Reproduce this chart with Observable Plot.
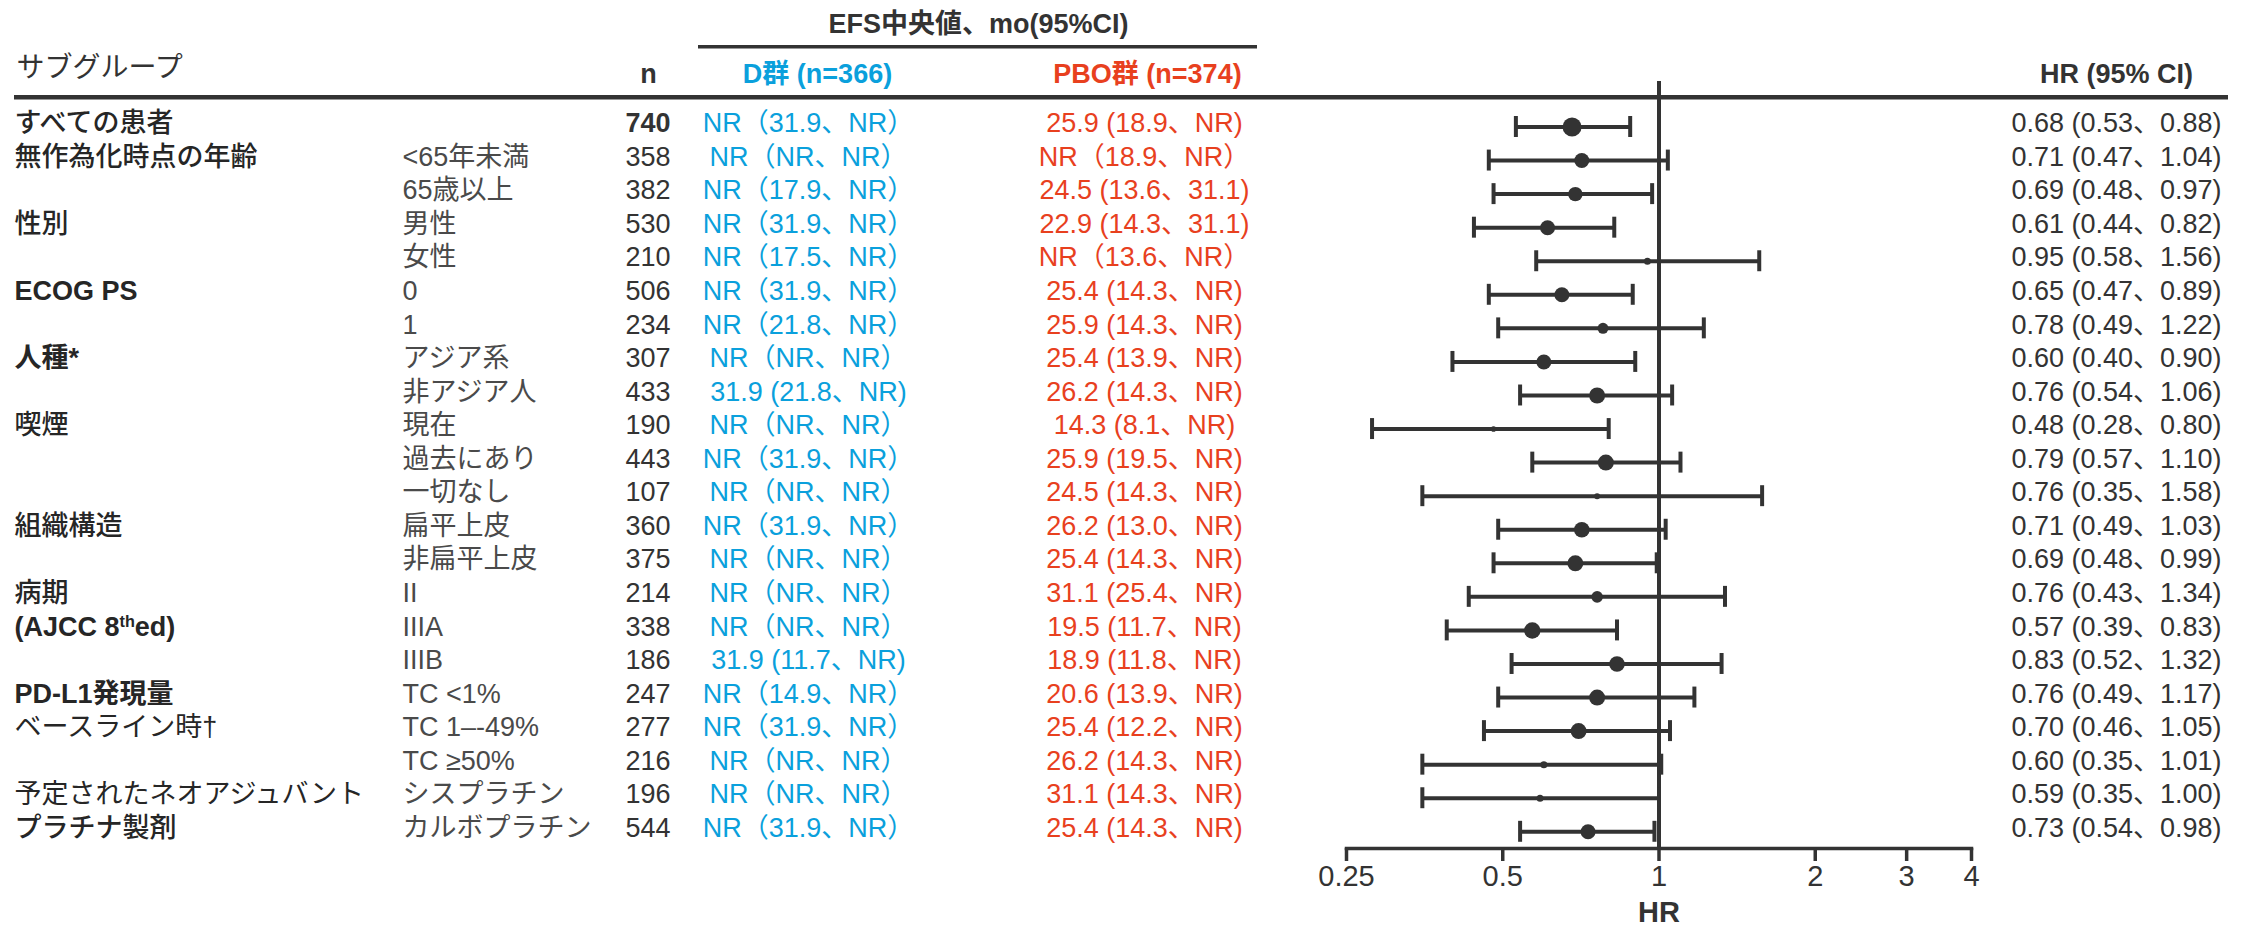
<!DOCTYPE html>
<html>
<head>
<meta charset="utf-8">
<script src="https://cdn.jsdelivr.net/npm/d3@7"></script>
<script src="https://cdn.jsdelivr.net/npm/@observablehq/plot@0.6"></script>
<style>
  html, body { margin: 0; padding: 0; background: #ffffff; }
  #chart { width: 2249px; height: 927px; }
</style>
</head>
<body>
<div id="chart"></div>
<script>
// ---------------- data ----------------
const groups = ["すべての患者", "無作為化時点の年齢", "", "性別", "", "ECOG PS", "", "人種*", "", "喫煙", "", "",
  "組織構造", "", "病期", "(AJCC 8thed)", "", "PD-L1発現量", "ベースライン時†", "", "予定されたネオアジュバント", "プラチナ製剤"];
const subgroups = ["", "<65年未満", "65歳以上", "男性", "女性", "0", "1", "アジア系", "非アジア人", "現在", "過去にあり", "一切なし",
  "扁平上皮", "非扁平上皮", "II", "IIIA", "IIIB", "TC <1%", "TC 1–-49%", "TC ≥50%", "シスプラチン", "カルボプラチン"];
const nValues = [740, 358, 382, 530, 210, 506, 234, 307, 433, 190, 443, 107, 360, 375, 214, 338, 186, 247, 277, 216, 196, 544];
const efsD = ["NR（31.9、NR）", "NR（NR、NR）", "NR（17.9、NR）", "NR（31.9、NR）", "NR（17.5、NR）", "NR（31.9、NR）",
  "NR（21.8、NR）", "NR（NR、NR）", "31.9 (21.8、NR)", "NR（NR、NR）", "NR（31.9、NR）", "NR（NR、NR）",
  "NR（31.9、NR）", "NR（NR、NR）", "NR（NR、NR）", "NR（NR、NR）", "31.9 (11.7、NR)", "NR（14.9、NR）",
  "NR（31.9、NR）", "NR（NR、NR）", "NR（NR、NR）", "NR（31.9、NR）"];
const efsPBO = ["25.9 (18.9、NR)", "NR（18.9、NR）", "24.5 (13.6、31.1)", "22.9 (14.3、31.1)", "NR（13.6、NR）", "25.4 (14.3、NR)",
  "25.9 (14.3、NR)", "25.4 (13.9、NR)", "26.2 (14.3、NR)", "14.3 (8.1、NR)", "25.9 (19.5、NR)", "24.5 (14.3、NR)",
  "26.2 (13.0、NR)", "25.4 (14.3、NR)", "31.1 (25.4、NR)", "19.5 (11.7、NR)", "18.9 (11.8、NR)", "20.6 (13.9、NR)",
  "25.4 (12.2、NR)", "26.2 (14.3、NR)", "31.1 (14.3、NR)", "25.4 (14.3、NR)"];
const hrValues = [0.68, 0.71, 0.69, 0.61, 0.95, 0.65, 0.78, 0.60, 0.76, 0.48, 0.79, 0.76, 0.71, 0.69, 0.76, 0.57, 0.83, 0.76, 0.70, 0.60, 0.59, 0.73];
const hrLow = [0.53, 0.47, 0.48, 0.44, 0.58, 0.47, 0.49, 0.40, 0.54, 0.28, 0.57, 0.35, 0.49, 0.48, 0.43, 0.39, 0.52, 0.49, 0.46, 0.35, 0.35, 0.54];
const hrHigh = [0.88, 1.04, 0.97, 0.82, 1.56, 0.89, 1.22, 0.90, 1.06, 0.80, 1.10, 1.58, 1.03, 0.99, 1.34, 0.83, 1.32, 1.17, 1.05, 1.01, 1.00, 0.98];
// marker size (box weight)
const markerWeight = [9.5, 7.5, 7.2, 7.5, 3.5, 7.5, 5.5, 7.5, 8, 2.8, 8, 3, 7.8, 8, 5.8, 8.2, 7.8, 8, 8, 3.5, 3.5, 7.5];
const axisTicks = [0.25, 0.5, 1, 2, 3, 4];
const axisTickLabels = ["0.25", "0.5", "1", "2", "3", "4"];
const titleText = "EFS中央値、mo(95%CI)";
const headerSub = "サブグループ";
const headerN = "n";
const headerD = "D群 (n=366)";
const headerPBO = "PBO群 (n=374)";
const headerHR = "HR (95% CI)";
const axisLabel = "HR";

// ---------------- layout & style ----------------
const W = 2249, H = 927;
const M = {left: 1346, right: 278, top: 81, bottom: 79};
const rowFirst = 126.5, rowLast = 831.3;
const rowStep = (rowLast - rowFirst) / (groups.length - 1);
const col = {group: 14, sub: 402, n: 670, d: 808, pbo: 1144, hr: 2116, title: 978, headD: 817, headPBO: 1147, headN: 648, headSub: 16};
const rulesPx = [
  {x1: 698, x2: 1257, y: 46.7, w: 3.5},
  {x1: 14, x2: 2228, y: 97.3, w: 4.5}
];
const INK = "#333333", GROUP_INK = "#262626", SUB_INK = "#4a4a4a";
const BLUE = "#0aa0dc", RED = "#e8401e";
const FONT = "'Liberation Sans', Arial, 'Noto Sans CJK JP', sans-serif";
const FS = 27;
const boldGroups = new Set(["ECOG PS", "人種*", "(AJCC 8thed)", "PD-L1発現量"]);
const plainGroups = new Set(["ベースライン時†", "予定されたネオアジュバント"]);

const rows = groups.map((g, i) => ({
  i, group: g, sub: subgroups[i], n: nValues[i], d: efsD[i], pbo: efsPBO[i],
  hr: hrValues[i], lo: hrLow[i], hi: hrHigh[i], w: markerWeight[i],
  hrText: `${hrValues[i].toFixed(2)} (${hrLow[i].toFixed(2)}、${hrHigh[i].toFixed(2)})`
}));

const rowText = (field, opts) => Plot.text(rows, {
  y: "i", text: field, frameAnchor: "left", lineAnchor: "middle", dy: -3.5, fontSize: FS, ...opts
});
const headText = (txt, x, y, opts) => Plot.text([txt], {
  text: d => d, frameAnchor: "top-left", lineAnchor: "middle", dx: x - M.left, dy: y - M.top,
  fontSize: FS, fontWeight: "bold", fill: INK, ...opts
});

const headerRules = (index, scales, values, dims) => {
  const g = d3.create("svg:g").attr("stroke", INK);
  for (const r of rulesPx) {
    g.append("line").attr("x1", r.x1).attr("x2", r.x2).attr("y1", r.y).attr("y2", r.y).attr("stroke-width", r.w);
  }
  return g.node();
};

const chart = Plot.plot({
  width: W, height: H,
  marginLeft: M.left, marginRight: M.right, marginTop: M.top, marginBottom: M.bottom,
  style: {fontFamily: FONT, fontSize: FS + "px", color: INK, background: "#ffffff", overflow: "visible"},
  x: {type: "log", domain: [0.25, 4]},
  y: {type: "band", domain: rows.map(d => d.i), range: [rowFirst - rowStep / 2, rowLast + rowStep / 2], padding: 0, round: false, axis: null},
  r: {type: "identity"},
  marks: [
    headerRules,
    Plot.ruleX([1], {stroke: INK, strokeWidth: 4}),
    Plot.frame({anchor: "bottom", stroke: INK, strokeWidth: 3.5}),
    Plot.axisX({ticks: axisTicks, tickFormat: d => axisTickLabels[axisTicks.indexOf(d)], tickSize: 13, tickPadding: 4,
      fontSize: 29, color: INK, strokeWidth: 3.5, label: null}),
    Plot.text([axisLabel], {text: d => d, frameAnchor: "bottom", lineAnchor: "middle", dy: 64, fontSize: 29, fontWeight: "bold", fill: INK}),
    // forest
    Plot.ruleY(rows, {y: "i", x1: "lo", x2: "hi", stroke: INK, strokeWidth: 4}),
    Plot.tickX(rows, {x: "lo", y: "i", stroke: INK, strokeWidth: 4, insetTop: 6.3, insetBottom: 6.3}),
    Plot.tickX(rows, {x: "hi", y: "i", stroke: INK, strokeWidth: 4, insetTop: 6.3, insetBottom: 6.3}),
    Plot.dot(rows, {x: "hr", y: "i", r: "w", fill: INK, stroke: null}),
    // table columns
    rowText("group", {dx: col.group - M.left, textAnchor: "start", fill: GROUP_INK, fontWeight: 500,
      filter: d => d.group && !boldGroups.has(d.group) && !plainGroups.has(d.group)}),
    rowText("group", {dx: col.group - M.left, textAnchor: "start", fill: GROUP_INK, fontWeight: "normal", filter: d => plainGroups.has(d.group)}),
    rowText("group", {dx: col.group - M.left, textAnchor: "start", fill: GROUP_INK, fontWeight: "bold", filter: d => boldGroups.has(d.group)}),
    rowText("sub", {dx: col.sub - M.left, textAnchor: "start", fill: SUB_INK}),
    rowText("n", {dx: col.n - M.left, textAnchor: "end", fill: INK, filter: d => d.i !== 0}),
    rowText("n", {dx: col.n - M.left, textAnchor: "end", fill: INK, fontWeight: "bold", filter: d => d.i === 0}),
    rowText("d", {dx: col.d - M.left, textAnchor: "middle", fill: BLUE}),
    rowText("pbo", {dx: col.pbo - M.left, textAnchor: "middle", fill: RED}),
    rowText("hrText", {dx: col.hr - M.left, textAnchor: "middle", fill: INK}),
    // headers
    headText(titleText, col.title, 24, {textAnchor: "middle"}),
    headText(headerSub, col.headSub, 68, {textAnchor: "start", fontWeight: "normal", fontSize: 28}),
    headText(headerN, col.headN, 73.5, {textAnchor: "middle"}),
    headText(headerD, col.headD, 73.5, {textAnchor: "middle", fill: BLUE}),
    headText(headerPBO, col.headPBO, 73.5, {textAnchor: "middle", fill: RED}),
    headText(headerHR, col.hr, 73.5, {textAnchor: "middle"})
  ]
});

// superscript "th" in (AJCC 8thed)
d3.select(chart).selectAll("text").filter(function () { return this.textContent === "(AJCC 8thed)"; })
  .each(function () {
    const t = d3.select(this);
    t.text(null);
    t.append("tspan").text("(AJCC 8");
    t.append("tspan").attr("baseline-shift", "super").attr("font-size", "60%").text("th");
    t.append("tspan").text("ed)");
  });

document.getElementById("chart").appendChild(chart);
</script>
</body>
</html>
